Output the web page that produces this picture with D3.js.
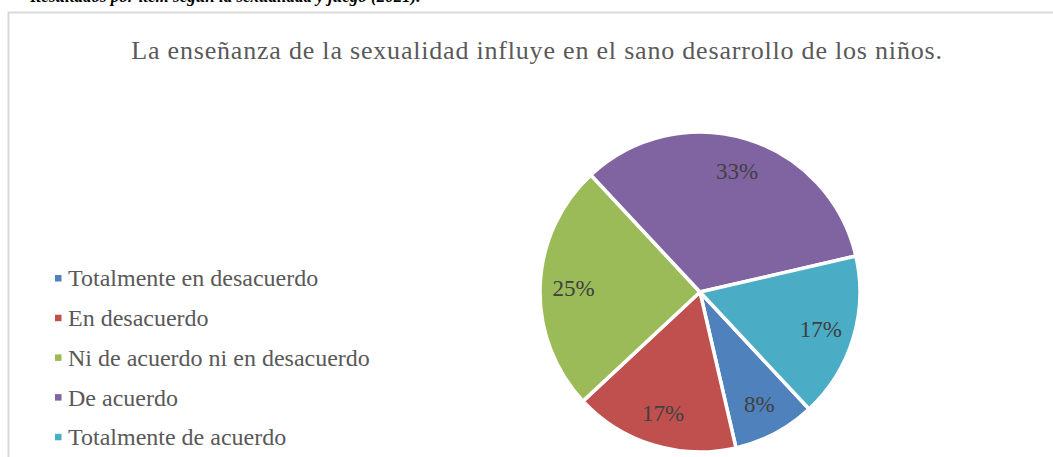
<!DOCTYPE html>
<html>
<head>
<meta charset="utf-8">
<script src="https://cdn.jsdelivr.net/npm/d3@7"></script>
<style>
  body { margin: 0; background: #fff; }
  svg { display: block; }
  text { font-family: "Liberation Serif", "Times New Roman", serif; }
</style>
</head>
<body>
<div id="chart"></div>
<script>
var categories = ["Totalmente en desacuerdo", "En desacuerdo", "Ni de acuerdo ni en desacuerdo", "De acuerdo", "Totalmente de acuerdo"];
var counts = [1, 2, 3, 4, 2];
var percentLabels = ["8%", "17%", "25%", "33%", "17%"];
var colors = ["#4f81bd", "#c0504d", "#9bbb59", "#8064a2", "#4bacc6"];

var chartTitle = "La enseñanza de la sexualidad influye en el sano desarrollo de los niños.";
var captionText = "Resultados por ítem según la sexualidad y juego (2021).";

var width = 1053, height = 457;

var svg = d3.select("#chart").append("svg")
    .attr("width", width)
    .attr("height", height);

// caption of the document, cut off by the top edge as in the source
svg.append("text")
    .attr("x", 30)
    .attr("y", 2)
    .style("font-size", "17px")
    .style("font-weight", "bold")
    .style("font-style", "italic")
    .style("fill", "#000")
    .text(captionText);

// chart frame
svg.append("path")
    .attr("d", "M8.5," + height + "V12.5H" + width)
    .style("fill", "none")
    .style("stroke", "#d9d9d9")
    .style("stroke-width", 2);

svg.append("text")
    .attr("x", 537)
    .attr("y", 59)
    .attr("text-anchor", "middle")
    .style("font-size", "26px")
    .style("letter-spacing", "0.8px")
    .style("fill", "#595959")
    .text(chartTitle);

// pie
var cx = 700, cy = 292, radius = 160;
var startA = 137 * Math.PI / 180;

var pie = d3.pie()
    .sort(null)
    .startAngle(startA)
    .endAngle(startA + 2 * Math.PI);

var arc = d3.arc()
    .innerRadius(0)
    .outerRadius(radius);

var labelArc = d3.arc()
    .innerRadius(radius * 0.79)
    .outerRadius(radius * 0.79);

var g = svg.append("g")
    .attr("transform", "translate(" + cx + "," + cy + ")");

var slices = g.selectAll(".slice")
    .data(pie(counts))
    .enter().append("g")
    .attr("class", "slice");

slices.append("path")
    .attr("d", arc)
    .style("fill", function(d, i) { return colors[i]; })
    .style("stroke", "#fff")
    .style("stroke-width", 3.5)
    .style("stroke-linejoin", "round");

slices.append("text")
    .attr("transform", function(d) { return "translate(" + labelArc.centroid(d) + ")"; })
    .attr("text-anchor", "middle")
    .attr("dy", "0.35em")
    .style("font-size", "23px")
    .style("fill", "#404040")
    .text(function(d, i) { return percentLabels[i]; });

// legend
var legend = svg.selectAll(".legendRow")
    .data(categories)
    .enter().append("g")
    .attr("class", "legendRow")
    .attr("transform", function(d, i) { return "translate(55," + (278 + i * 39.7) + ")"; });

legend.append("rect")
    .attr("x", 0)
    .attr("y", -3)
    .attr("width", 6.5)
    .attr("height", 6.5)
    .style("fill", function(d, i) { return colors[i]; });

legend.append("text")
    .attr("x", 13)
    .attr("dy", "0.35em")
    .style("font-size", "24px")
    .style("fill", "#595959")
    .text(function(d) { return d; });
</script>
</body>
</html>
